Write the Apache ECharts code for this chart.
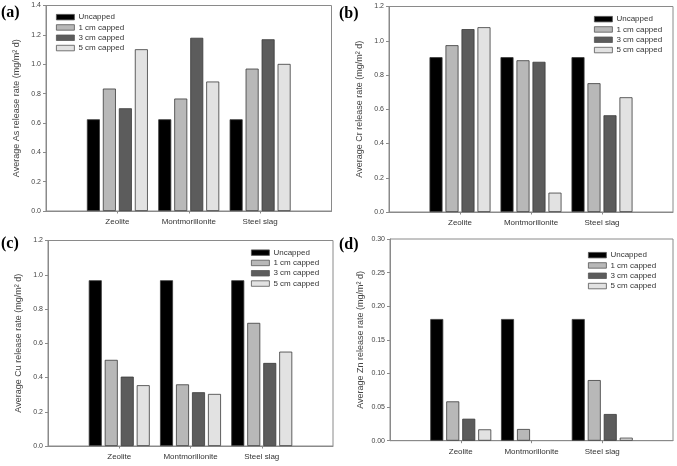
<!DOCTYPE html>
<html>
<head>
<meta charset="utf-8">
<script src="https://cdn.jsdelivr.net/npm/echarts@6/dist/echarts.min.js"></script>
<style>
html,body{margin:0;padding:0;background:#fff;}
#chart{width:677px;height:466px;}
</style>
</head>
<body>
<div id="chart"></div>
<script>
// ---- data ----
const categories = ['Zeolite', 'Montmorillonite', 'Steel slag'];
const seriesNames = ['Uncapped', '1 cm capped', '3 cm capped', '5 cm capped'];

// (a) As
const asUncapped = [0.625, 0.625, 0.625];
const as1cm      = [0.834, 0.766, 0.970];
const as3cm      = [0.700, 1.180, 1.170];
const as5cm      = [1.102, 0.882, 1.002];
// (b) Cr
const crUncapped = [0.904, 0.904, 0.904];
const cr1cm      = [0.974, 0.886, 0.752];
const cr3cm      = [1.068, 0.877, 0.565];
const cr5cm      = [1.079, 0.113, 0.670];
// (c) Cu
const cuUncapped = [0.968, 0.968, 0.968];
const cu1cm      = [0.503, 0.360, 0.719];
const cu3cm      = [0.405, 0.314, 0.485];
const cu5cm      = [0.355, 0.304, 0.551];
// (d) Zn  (null = no bar drawn)
const znUncapped = [0.181, 0.181, 0.181];
const zn1cm      = [0.0585, 0.0174, 0.0902];
const zn3cm      = [0.0327, null, 0.0397];
const zn5cm      = [0.0169, null, 0.0045];

const panelLabels = ['(a)', '(b)', '(c)', '(d)'];
const yTitles = [
  'Average As release rate (mg/m² d)',
  'Average Cr release rate (mg/m² d)',
  'Average Cu release rate (mg/m² d)',
  'Average Zn release rate (mg/m² d)'
];
const yMax = [1.4, 1.2, 1.2, 0.30];
const yStep = [0.2, 0.2, 0.2, 0.05];
const yDecimals = [1, 1, 1, 2];

const panelData = [
  [asUncapped, as1cm, as3cm, as5cm],
  [crUncapped, cr1cm, cr3cm, cr5cm],
  [cuUncapped, cu1cm, cu3cm, cu5cm],
  [znUncapped, zn1cm, zn3cm, zn5cm]
];

// ---- layout / style ----
const FONT = "'Liberation Sans', Arial, sans-serif";
const colors = ['#000000', '#b8b8b8', '#5c5c5c', '#e2e2e2'];
const grids = [
  {left: 46, top: 5.5, width: 285.5, height: 205.5},
  {left: 389, top: 6.5, width: 284, height: 205.5},
  {left: 48, top: 240.5, width: 285, height: 205.5},
  {left: 390, top: 239, width: 283, height: 201.7}
];
const legendPos = [
  {left: 56, top: 12},
  {left: 594, top: 14},
  {left: 251, top: 247.5},
  {left: 588, top: 250}
];
const labelPos = [
  {left: 1, top: 5},
  {left: 339, top: 6},
  {left: 1, top: 236},
  {left: 339, top: 237}
];

const xCats = [''].concat(categories).concat(['']);

const option = {
  animation: false,
  backgroundColor: '#fff',
  textStyle: {fontFamily: FONT},
  grid: grids.map(g => Object.assign({show: true, borderColor: '#8a8a8a', borderWidth: 1, backgroundColor: 'transparent'}, g)),
  title: panelLabels.map((t, i) => ({
    text: t, left: labelPos[i].left, top: labelPos[i].top, padding: 0,
    textStyle: {fontFamily: "'Liberation Serif', 'Times New Roman', serif", fontWeight: 'bold', fontSize: 16, color: '#000'}
  })),
  legend: panelLabels.map((t, i) => ({
    data: seriesNames.map(n => ({name: n})),
    orient: 'vertical',
    left: legendPos[i].left, top: legendPos[i].top,
    padding: 0,
    itemWidth: 18, itemHeight: 5.5, itemGap: 0,
    icon: 'rect',
    selectedMode: false,
    itemStyle: {borderWidth: 0.8, borderColor: '#555'},
    textStyle: {fontFamily: FONT, fontSize: 8, color: '#333', lineHeight: 10.3, padding: [0, 0, 0, -1]}
  })),
  xAxis: grids.map((g, i) => ({
    type: 'category', gridIndex: i, data: xCats, boundaryGap: false,
    axisLine: {lineStyle: {color: '#8a8a8a', width: 1}},
    axisTick: {show: true, length: 2.5, interval: (idx) => idx > 0 && idx < 4, lineStyle: {color: '#8a8a8a'}},
    axisLabel: {fontFamily: FONT, fontSize: 8, color: '#333', margin: 7, interval: 0},
    splitLine: {show: false}
  })),
  yAxis: grids.map((g, i) => ({
    type: 'value', gridIndex: i, min: 0, max: yMax[i], interval: yStep[i],
    name: yTitles[i], nameLocation: 'middle', nameGap: 25,
    nameTextStyle: {fontFamily: FONT, fontSize: 9, color: '#444'},
    axisLine: {show: true, lineStyle: {color: '#8a8a8a', width: 1}},
    axisTick: {show: true, length: 3, lineStyle: {color: '#8a8a8a'}},
    axisLabel: {fontFamily: FONT, fontSize: 7, color: '#444', margin: 5,
      formatter: v => v.toFixed(yDecimals[i])},
    splitLine: {show: false}
  })),
  series: []
};

panelData.forEach((arrs, p) => {
  arrs.forEach((vals, s) => {
    option.series.push({
      type: 'bar', name: seriesNames[s],
      xAxisIndex: p, yAxisIndex: p,
      data: [null].concat(vals).concat([null]),
      barWidth: 13, barGap: '23%',
      itemStyle: {color: colors[s], borderColor: '#3a3a3a', borderWidth: 0.8},
      emphasis: {disabled: true}
    });
  });
});

const chart = echarts.init(document.getElementById('chart'), null, {renderer: 'canvas'});
chart.setOption(option);
</script>
</body>
</html>
